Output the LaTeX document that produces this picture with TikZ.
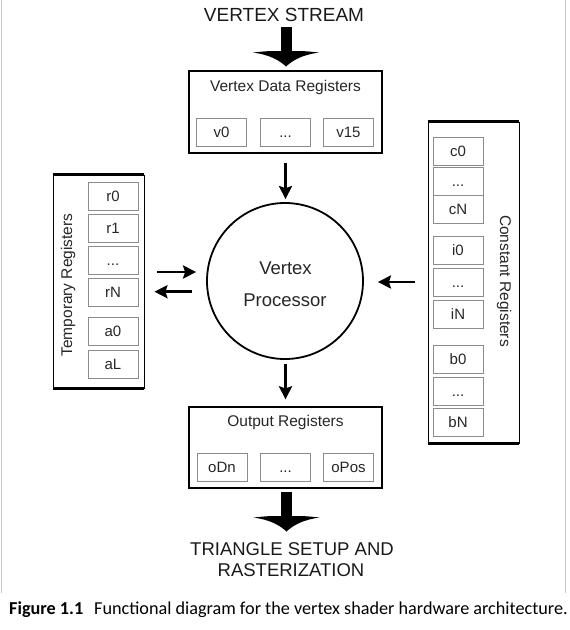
\documentclass[tikz,border=0pt]{standalone}
\usepackage{fontspec}
\setmainfont{Liberation Sans}
\newfontfamily\capfont{Carlito}
\usetikzlibrary{arrows.meta,calc}
\begin{document}
\begin{tikzpicture}[x=1pt,y=-1pt,
  regbox/.style={draw=black, line width=1.3pt, minimum width=193pt, minimum height=82pt, inner sep=0pt},
  colbox/.style={draw=black, line width=0.9pt, minimum width=91pt, inner sep=0pt},
  cell/.style={draw=black!45, line width=0.8pt, minimum width=50pt, minimum height=28pt, inner sep=0pt,
    font=\fontsize{15}{16}\selectfont, text=black!85, text height=10.7pt, text depth=0pt},
  title/.style={font=\fontsize{15.5}{18}\selectfont, text=black!85, anchor=base, inner sep=0pt},
  big/.style={font=\fontsize{19}{22}\selectfont, text=black!90, inner sep=0pt},
  arr/.style={line width=2.8pt, -{Stealth[length=13pt,width=13pt,inset=2pt]}},
  pics/fatarrow/.style={code={
    \fill[black] (-5.5,0) rectangle (5.5,25);
    \fill[black] (-33,25.5) .. controls (-18,24) .. (-5.5,24) -- (5.5,24) .. controls (18,24) .. (33,25.5)
      .. controls (16,28) and (7,33) .. (0,39.5) .. controls (-7,33) and (-16,28) .. (-33,25.5) -- cycle;
  }}
]
\useasboundingbox (0,0) rectangle (570,630);
\draw[black!22, line width=1pt] (1,0) -- (1,593);
\draw[black!22, line width=1pt] (565.5,0) -- (565.5,593);

% top
\node[big, anchor=base] (vs) at (284,21) {VERTEX STREAM};
\pic at (286,27) {fatarrow};

% vertex data registers
\node[regbox] (vdr) at (285.5,112) {};
\node[title] (vdrt) at (285.5,91) {Vertex Data Registers};
\node[cell] (v0) at (221.5,132) {v0};
\node[cell] (vd) at (285.5,132) {...};
\node[cell] (v15) at (348.5,132) {v15};

% processor
\node[circle, draw=black, line width=1.8pt, minimum size=156pt, inner sep=0pt] (vp) at (285,281) {};
\node[font=\fontsize{18.5}{32}\selectfont, text=black!85, anchor=base, inner sep=0pt] (vpt1) at (285.5,274) {Vertex};
\node[font=\fontsize{18.5}{32}\selectfont, text=black!85, anchor=base, inner sep=0pt] (vpt2) at (285,306.5) {Processor};

% output registers
\node[regbox, minimum height=81pt] (out) at (285.5,447.5) {};
\node[title] (outt) at (285.5,426) {Output Registers};
\node[cell] (o0) at (222,467) {oDn};
\node[cell] (od) at (285.5,467) {...};
\node[cell] (op) at (348.5,467) {oPos};

% bottom
\pic at (286.5,492) {fatarrow};
\node[big, anchor=base, font=\fontsize{18.5}{22}\selectfont] (tri1) at (292,555) {TRIANGLE SETUP AND};
\node[big, anchor=base, font=\fontsize{18.5}{22}\selectfont] (tri2) at (291,576.5) {RASTERIZATION};

% temporary registers
\node[colbox, minimum height=213pt] (tmp) at (98.5,281.5) {};
\draw[line width=3.2pt] (tmp.north west) -- (tmp.north east);
\draw[line width=3.2pt] (tmp.south west) -- (tmp.south east);
\node[title, rotate=90] (tmpt) at (72,285) {Temporary Registers};
\node[cell] (r0) at (113,196) {r0};
\node[cell] (r1) at (113,228.5) {r1};
\node[cell] (rd) at (113,260) {...};
\node[cell] (rN) at (113,292.5) {rN};
\node[cell] (a0) at (113,331) {a0};
\node[cell] (aL) at (113,364) {aL};

% constant registers
\node[colbox, minimum height=321pt] (cst) at (473.5,282.5) {};
\draw[line width=3.2pt] (cst.north west) -- (cst.north east);
\draw[line width=3.2pt] (cst.south west) -- (cst.south east);
\node[title, rotate=-90] (cstt) at (500,281) {Constant Registers};
\node[cell] (c0) at (458,151) {c0};
\node[cell] (cd) at (458,181.5) {...};
\node[cell] (cN) at (458,209) {cN};
\node[cell] (i0) at (458,250.5) {i0};
\node[cell] (id) at (458,282.5) {...};
\node[cell] (iN) at (458,314) {iN};
\node[cell] (b0) at (458,359) {b0};
\node[cell] (bd) at (458,391) {...};
\node[cell] (bN) at (458,422.5) {bN};

% connectors
\draw[arr, shorten <=9pt, shorten >=3pt] (vdr.south) -- (vdr.south |- vp.north);
\draw[arr, shorten <=4pt, shorten >=7pt] (vdr.south |- vp.south) -- (vdr.south |- out.north);
\draw[arr, shorten <=13pt, shorten >=10pt] (tmp.east |- 0,272) -- (vp.west |- 0,272);
\draw[arr, shorten <=14pt, shorten >=10pt] (vp.west |- 0,291.7) -- (tmp.east |- 0,291.7);
\draw[arr, shorten <=13pt, shorten >=14pt] (cst.west |- 0,282) -- (vp.east |- 0,282);

% caption
\node[anchor=base west, inner sep=0pt, font=\capfont\fontsize{18.2}{20}\selectfont] (cap) at (9,614)
  {\textbf{Figure 1.1}\hspace{0.6em}Functional diagram for the vertex shader hardware architecture.};
\end{tikzpicture}
\end{document}
